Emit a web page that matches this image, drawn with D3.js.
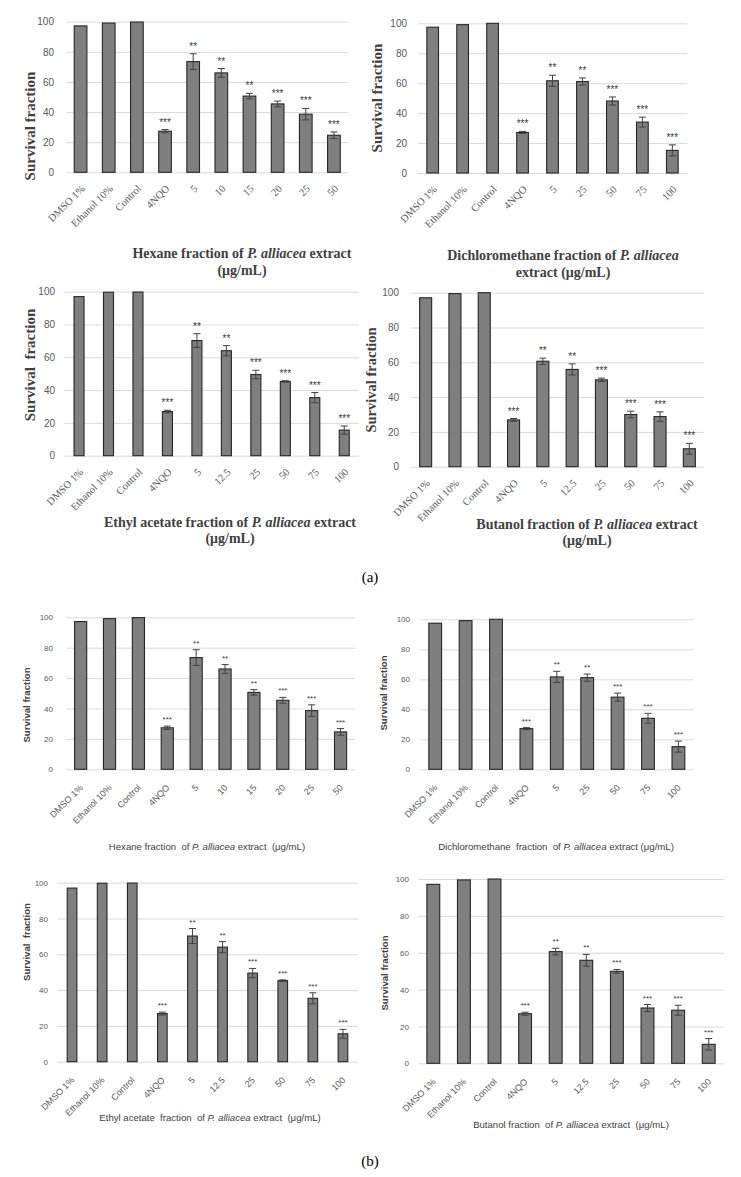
<!DOCTYPE html>
<html><head><meta charset="utf-8">
<script src="https://cdn.jsdelivr.net/npm/d3@7"></script>
<style>body{margin:0;background:#fff}svg{display:block}</style>
</head><body>
<svg id="c" width="741" height="1177"></svg>
<script>
// ---------- DATA ----------
const catsHex = ["DMSO 1%","Ethanol 10%","Control","4NQO","5","10","15","20","25","50"];
const valsHex = [97.2, 99.1, 99.8, 27.3, 73.5, 66.0, 50.6, 45.4, 38.6, 24.6];
const errHex  = [0, 0, 0, 1.1, 5.2, 2.9, 1.8, 1.9, 3.8, 2.2];
const sigHex  = ["","","","***","**","**","**","***","***","***"];

const catsDcm = ["DMSO 1%","Ethanol 10%","Control","4NQO","5","25","50","75","100"];
const valsDcm = [97.4, 99.1, 100, 27.1, 61.6, 61.1, 48.1, 34.0, 15.1];
const errDcm  = [0, 0, 0, 0.7, 3.7, 2.4, 2.7, 3.3, 3.7];
const sigDcm  = ["","","","***","**","**","***","***","***"];

const catsEa = ["DMSO 1%","Ethanol 10%","Control","4NQO","5","12.5","25","50","75","100"];
const valsEa = [97.0, 99.7, 99.8, 26.9, 70.2, 64.0, 49.5, 45.3, 35.4, 15.6];
const errEa  = [0, 0, 0, 0.8, 4.2, 3.1, 2.6, 0.4, 3.1, 2.5];
const sigEa  = ["","","","***","**","**","***","***","***","***"];

const catsBu = ["DMSO 1%","Ethanol 10%","Control","4NQO","5","12.5","25","50","75","100"];
const valsBu = [97.1, 99.5, 100, 26.9, 60.6, 55.9, 49.9, 30.0, 28.8, 10.3];
const errBu  = [0, 0, 0, 0.8, 1.8, 3.2, 1.0, 1.9, 2.7, 3.1];
const sigBu  = ["","","","***","**","**","***","***","***","***"];

const yTicks = [0, 20, 40, 60, 80, 100];

// ---------- STYLES ----------
const SERIF = "'Liberation Serif','Times New Roman',serif";
const SANS = "'Liberation Sans',Arial,sans-serif";

const styleA = {tickFont: SERIF, yTickFont: SANS, yTickSize: 10, xTickSize: 10.5, xdx: 5, xdy: 17,
  titleFont: SERIF, titleWeight: "bold", titleSize: 14, yTitleSize: 15, yTitleWeight: "bold",
  starSize: 10, textColor: "#595959", titleColor: "#404040"};
const styleB = {tickFont: SANS, yTickFont: SANS, yTickSize: 8, xTickSize: 9, xdx: 3, xdy: 19,
  titleFont: SANS, titleWeight: "normal", titleSize: 9.6, yTitleSize: 9.6, yTitleWeight: "bold",
  starSize: 8, textColor: "#595959", titleColor: "#404040"};

const panels = [
  {cats: catsHex, vals: valsHex, err: errHex, sig: sigHex, st: styleA,
   x0: 66.5, x1: 348, yTop: 21.7, yBot: 172.3, pad: 0.55, yTickX: 54,
   yTitle: "Survival fraction", yTitleX: 32, yTitleY: 126,
   xTitle: [[["Hexane fraction of ", 0], ["P. alliacea", 1], [" extract", 0]], [["(μg/mL)", 0]]],
   xTitleX: 242, xTitleY: 258, lineH: 17},
  {cats: catsDcm, vals: valsDcm, err: errDcm, sig: sigDcm, st: styleA,
   x0: 417.7, x1: 687.3, yTop: 23.3, yBot: 173, pad: 0.61, yTickX: 407,
   yTitle: "Survival fraction", yTitleX: 379, yTitleY: 98,
   xTitle: [[["Dichloromethane fraction of ", 0], ["P. alliacea", 1]], [["extract (μg/mL)", 0]]],
   xTitleX: 563, xTitleY: 260, lineH: 17},
  {cats: catsEa, vals: valsEa, err: errEa, sig: sigEa, st: styleA,
   x0: 64.3, x1: 359, yTop: 291.7, yBot: 455.7, pad: 0.66, yTickX: 55,
   yTitle: "Survival  fraction", yTitleX: 32, yTitleY: 365,
   xTitle: [[["Ethyl acetate fraction of ", 0], ["P. alliacea", 1], [" extract", 0]], [["(μg/mL)", 0]]],
   xTitleX: 230, xTitleY: 527, lineH: 16},
  {cats: catsBu, vals: valsBu, err: errBu, sig: sigBu, st: styleA,
   x0: 411, x1: 704, yTop: 292.7, yBot: 466.7, pad: 0.59, yTickX: 399,
   yTitle: "Survival fraction", yTitleX: 373, yTitleY: 380, yTitleSize: 14.5,
   xTitle: [[["Butanol fraction of ", 0], ["P. alliacea", 1], [" extract", 0]], [["(μg/mL)", 0]]],
   xTitleX: 587, xTitleY: 529, lineH: 16},
  {cats: catsHex, vals: valsHex, err: errHex, sig: sigHex, st: styleB,
   x0: 66.2, x1: 355, yTop: 617.3, yBot: 769.3, pad: 0.58, yTickX: 53,
   yTitle: "Survival fraction", yTitleX: 27, yTitleY: 705,
   xTitle: [[["Hexane fraction  of ", 0], ["P. alliacea", 1], [" extract  (μg/mL)", 0]]],
   xTitleX: 207, xTitleY: 850, lineH: 14},
  {cats: catsDcm, vals: valsDcm, err: errDcm, sig: sigDcm, st: styleB,
   x0: 420, x1: 693.6, yTop: 619.3, yBot: 769.3, pad: 0.58, yTickX: 410,
   yTitle: "Survival fraction", yTitleX: 384, yTitleY: 693,
   xTitle: [[["Dichloromethane  fraction  of ", 0], ["P. alliacea", 1], [" extract (μg/mL)", 0]]],
   xTitleX: 556, xTitleY: 850, lineH: 14},
  {cats: catsEa, vals: valsEa, err: errEa, sig: sigEa, st: styleB,
   x0: 57, x1: 358, yTop: 882.7, yBot: 1061.7, pad: 0.68, yTickX: 48,
   yTitle: "Survival  fraction", yTitleX: 27, yTitleY: 942,
   xTitle: [[["Ethyl acetate  fraction  of ", 0], ["P. alliacea", 1], [" extract  (μg/mL)", 0]]],
   xTitleX: 210, xTitleY: 1121, lineH: 14},
  {cats: catsBu, vals: valsBu, err: errBu, sig: sigBu, st: styleB,
   x0: 418, x1: 724, yTop: 879, yBot: 1063.3, pad: 0.58, yTickX: 409,
   yTitle: "Survival fraction", yTitleX: 385, yTitleY: 973,
   xTitle: [[["Butanol fraction  of ", 0], ["P. alliacea", 1], [" extract  (μg/mL)", 0]]],
   xTitleX: 571, xTitleY: 1128, lineH: 14}
];

const svg = d3.select("#c");
svg.append("rect").attr("width", 741).attr("height", 1177).attr("fill", "#fff");

const C45 = Math.SQRT1_2;
function rotM(tx, ty) { return `matrix(${C45},${-C45},${C45},${C45},${tx},${ty})`; }

function drawPanel(p) {
  const st = p.st;
  const g = svg.append("g");
  const x = d3.scaleBand().domain(p.cats).range([p.x0, p.x1]).paddingInner(p.pad).paddingOuter(p.pad / 2);
  const y = d3.scaleLinear().domain([0, 100]).range([p.yBot, p.yTop]);

  const yAxis = g.append("g").attr("transform", `translate(${p.x0},0)`)
    .call(d3.axisLeft(y).tickValues(yTicks).tickSize(-(p.x1 - p.x0)).tickPadding(p.x0 - p.yTickX));
  yAxis.select(".domain").remove();
  yAxis.selectAll(".tick line").attr("stroke", "#d9d9d9").attr("stroke-width", 1);
  yAxis.selectAll(".tick text").attr("fill", st.textColor).attr("font-family", st.yTickFont)
    .attr("font-size", st.yTickSize);

  g.selectAll("rect.bar").data(p.vals).join("rect")
    .attr("x", (d, i) => x(p.cats[i]))
    .attr("y", d => y(d))
    .attr("width", x.bandwidth())
    .attr("height", d => y(0) - y(d))
    .attr("fill", "#7f7f7f").attr("stroke", "#262626").attr("stroke-width", 1.1);

  const eg = g.append("g").attr("stroke", "#404040").attr("stroke-width", 1);
  p.vals.forEach((v, i) => {
    const e = p.err[i];
    if (!e) return;
    const cx = x(p.cats[i]) + x.bandwidth() / 2;
    eg.append("line").attr("x1", cx).attr("x2", cx).attr("y1", y(v + e)).attr("y2", y(v - e));
    eg.append("line").attr("x1", cx - 3.5).attr("x2", cx + 3.5).attr("y1", y(v + e)).attr("y2", y(v + e));
    eg.append("line").attr("x1", cx - 3.5).attr("x2", cx + 3.5).attr("y1", y(v - e)).attr("y2", y(v - e));
  });

  g.selectAll("text.sig").data(p.sig).join("text")
    .attr("x", (d, i) => x(p.cats[i]) + x.bandwidth() / 2)
    .attr("y", (d, i) => y(p.vals[i] + p.err[i]) - 4)
    .attr("text-anchor", "middle").attr("font-family", SANS).attr("font-size", st.starSize)
    .attr("fill", "#3a3a3a").text(d => d);

  const lg = g.append("g");
  p.cats.forEach(c => {
    const cx = x(c) + x.bandwidth() / 2;
    lg.append("g").attr("transform", rotM(cx + st.xdx, p.yBot + st.xdy))
      .append("text").attr("x", 0).attr("y", 0).attr("text-anchor", "end")
      .attr("font-family", st.tickFont).attr("font-size", st.xTickSize).attr("fill", st.textColor).text(c);
  });

  g.append("text").attr("transform", `translate(${p.yTitleX},${p.yTitleY}) rotate(-90)`)
    .attr("text-anchor", "middle").attr("dominant-baseline", "middle")
    .attr("font-family", st.titleFont).attr("font-weight", st.yTitleWeight)
    .attr("font-size", p.yTitleSize || st.yTitleSize).attr("fill", st.titleColor)
    .style("white-space", "pre").text(p.yTitle);

  p.xTitle.forEach((line, li) => {
    const t = g.append("text").attr("x", p.xTitleX).attr("y", p.xTitleY + li * p.lineH)
      .attr("text-anchor", "middle").attr("font-family", st.titleFont)
      .attr("font-weight", st.titleWeight).attr("font-size", st.titleSize)
      .attr("fill", st.titleColor).style("white-space", "pre");
    line.forEach(([s, it]) => t.append("tspan").attr("font-style", it ? "italic" : "normal").text(s));
  });
}

panels.forEach(drawPanel);

svg.append("text").attr("x", 370).attr("y", 582).attr("text-anchor", "middle")
  .attr("font-family", SERIF).attr("font-size", 15).attr("fill", "#000").text("(a)");
svg.append("text").attr("x", 370).attr("y", 1166).attr("text-anchor", "middle")
  .attr("font-family", SERIF).attr("font-size", 15).attr("fill", "#000").text("(b)");
</script>
</body></html>
